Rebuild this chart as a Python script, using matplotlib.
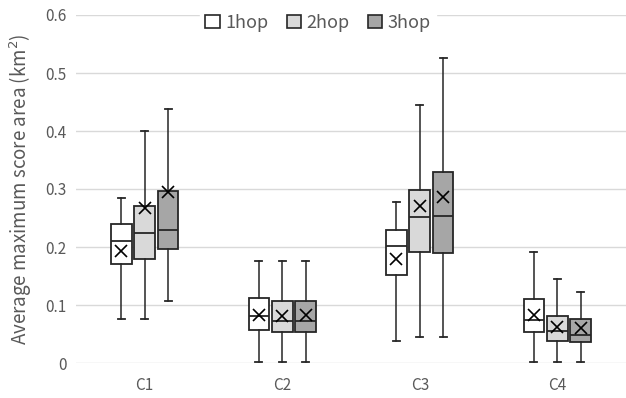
import matplotlib
matplotlib.use("Agg")
import matplotlib.pyplot as plt
from matplotlib.patches import Patch
import numpy as np

plt.rcParams['font.family'] = ['Noto Sans CJK JP', 'DejaVu Sans']

categories = ["C1", "C2", "C3", "C4"]
series = ["1hop", "2hop", "3hop"]
colors = ["#ffffff", "#d9d9d9", "#a6a6a6"]

# per series: lists over categories
whislo = {"1hop": [0.076, 0.002, 0.038, 0.002],
          "2hop": [0.076, 0.002, 0.045, 0.002],
          "3hop": [0.107, 0.002, 0.045, 0.002]}
q1 = {"1hop": [0.170, 0.057, 0.152, 0.054],
      "2hop": [0.179, 0.054, 0.192, 0.038],
      "3hop": [0.196, 0.054, 0.189, 0.036]}
med = {"1hop": [0.210, 0.081, 0.202, 0.075],
       "2hop": [0.224, 0.072, 0.251, 0.056],
       "3hop": [0.229, 0.072, 0.254, 0.049]}
q3 = {"1hop": [0.239, 0.112, 0.229, 0.110],
      "2hop": [0.271, 0.107, 0.299, 0.081],
      "3hop": [0.297, 0.107, 0.330, 0.076]}
whishi = {"1hop": [0.284, 0.176, 0.278, 0.192],
          "2hop": [0.400, 0.176, 0.444, 0.144],
          "3hop": [0.438, 0.176, 0.526, 0.123]}
means = {"1hop": [0.193, 0.083, 0.180, 0.083],
         "2hop": [0.268, 0.081, 0.271, 0.062],
         "3hop": [0.295, 0.083, 0.287, 0.061]}

fig = plt.figure(figsize=(6.26, 3.98), dpi=100)
ax = fig.add_axes([76/626, 35/398, 1 - 76/626, 1 - 35/398 - 15/398])

offsets = [-0.17, 0.0, 0.17]
width = 0.15
gray = "#595959"

for s, off, col in zip(series, offsets, colors):
    stats = []
    for i in range(len(categories)):
        stats.append(dict(whislo=whislo[s][i], q1=q1[s][i], med=med[s][i],
                          q3=q3[s][i], whishi=whishi[s][i], mean=means[s][i],
                          fliers=[]))
    pos = np.arange(1, len(categories) + 1) + off
    ax.bxp(stats, positions=pos, widths=width, patch_artist=True,
           showmeans=True, showfliers=False,
           boxprops=dict(facecolor=col, edgecolor="#262626", linewidth=1.3),
           medianprops=dict(color="#262626", linewidth=1.3),
           whiskerprops=dict(color="#262626", linewidth=1.1),
           capprops=dict(color="#262626", linewidth=1.3),
           capwidths=0.05,
           meanprops=dict(marker="x", markeredgecolor="black", markersize=8.5,
                          markeredgewidth=1.2, linestyle="none"),
           zorder=3)

ax.set_xlim(0.5, 4.5)
ax.set_ylim(0, 0.6)
ax.set_yticks(np.arange(0, 0.61, 0.1))
ax.set_yticklabels(["0", "0.1", "0.2", "0.3", "0.4", "0.5", "0.6"])
ax.set_xticks(range(1, len(categories) + 1))
ax.set_xticklabels(categories)
ax.tick_params(axis="both", length=0, colors=gray, labelsize=11)
ax.tick_params(axis="x", pad=10)
ax.tick_params(axis="y", pad=7)
for sp in ax.spines.values():
    sp.set_visible(False)
ax.grid(axis="y", color="#d9d9d9", linewidth=1)
ax.set_axisbelow(True)
ax.set_ylabel("Average maximum score area (km$^2$)", color=gray, fontsize=13.5,
              labelpad=8)

handles = [Patch(facecolor=c, edgecolor="#262626", linewidth=1.2, label=s)
           for s, c in zip(series, colors)]
leg = ax.legend(handles=handles, loc="upper center", bbox_to_anchor=(0.44, 1.045),
                ncol=3, frameon=True, fontsize=13, handlelength=0.8,
                handleheight=0.8, handletextpad=0.3, columnspacing=1.0,
                borderpad=0.3)
leg.get_frame().set_edgecolor("white")
leg.get_frame().set_facecolor("white")
leg.get_frame().set_alpha(1)
for t in leg.get_texts():
    t.set_color(gray)

fig.savefig("out.png", dpi=100)
